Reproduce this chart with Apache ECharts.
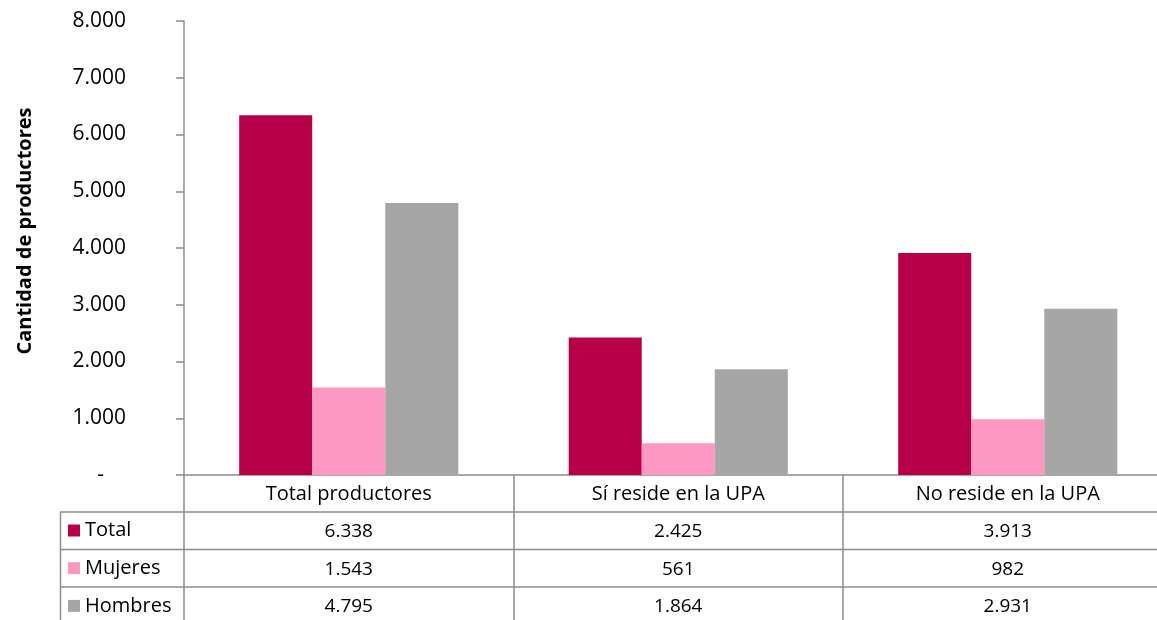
<!DOCTYPE html>
<html>
<head>
<meta charset="utf-8">
<script src="https://cdn.jsdelivr.net/npm/echarts@6/dist/echarts.min.js"></script>
<style>
  html, body { margin: 0; padding: 0; background: #fff; }
  #chart { width: 1157px; height: 620px; }
</style>
</head>
<body>
<div id="chart"></div>
<script>
const categorias = ['Total productores', 'Sí reside en la UPA', 'No reside en la UPA']
const total = [6338, 2425, 3913]
const mujeres = [1543, 561, 982]
const hombres = [4795, 1864, 2931]
const yTicks = { min: 0, max: 8000, interval: 1000 }

const fuente = '"Open Sans", "Noto Sans", sans-serif'
const gris = '#8c8c8c'
const fila = 37.7

function miles (v) {
  return String(v).replace(/\B(?=(\d{3})+(?!\d))/g, '.')
}

const myChart = echarts.init(document.getElementById('chart'))

const option = {
  animation: false,
  color: ['#B8004A', '#FF97C3', '#A6A6A6'],
  textStyle: { fontFamily: fuente },
  grid: { left: 184, top: 21, bottom: 145, right: -15.5, outerBoundsMode: 'none' },
  legend: {
    orient: 'vertical',
    left: 68,
    top: 519.5,
    padding: 0,
    height: 200,
    icon: 'rect',
    itemWidth: 12,
    itemHeight: 12,
    itemGap: fila - 22,
    textStyle: { fontSize: 20, color: '#000', lineHeight: 22, fontFamily: fuente },
    selectedMode: false
  },
  xAxis: {
    type: 'category',
    data: categorias,
    axisLine: { lineStyle: { color: gris, width: 1.5 } },
    axisTick: { show: true, length: 146, lineStyle: { color: gris, width: 1.5 } },
    axisLabel: {
      interval: 0,
      margin: 0,
      color: '#000',
      fontFamily: fuente,
      formatter: function (v, i) {
        return ['{h|' + v + '}',
          '{n|' + miles(total[i]) + '}',
          '{n|' + miles(mujeres[i]) + '}',
          '{n|' + miles(hombres[i]) + '}'].join('\n')
      },
      rich: {
        h: { fontSize: 20, lineHeight: fila, fontFamily: fuente, color: '#000' },
        n: { fontSize: 19, lineHeight: fila, fontFamily: fuente, color: '#000' }
      }
    }
  },
  yAxis: {
    type: 'value',
    min: yTicks.min,
    max: yTicks.max,
    interval: yTicks.interval,
    splitLine: { show: false },
    axisLine: { show: true, lineStyle: { color: gris, width: 1.5 } },
    axisTick: { show: true, length: 8, lineStyle: { color: gris, width: 1.5 } },
    axisLabel: {
      margin: 58,
      fontSize: 21,
      color: '#000',
      fontFamily: fuente,
      formatter: function (v) {
        return v === 0 ? '{d|-}' : miles(v)
      },
      rich: { d: { fontSize: 21, padding: [0, 22, 0, 0], fontFamily: fuente } }
    }
  },
  graphic: [
    {
      type: 'text',
      x: 25,
      y: 231,
      rotation: Math.PI / 2,
      style: {
        text: 'Cantidad de productores',
        fontSize: 20,
        fontWeight: 'bold',
        fontFamily: fuente,
        fill: '#000',
        align: 'center',
        verticalAlign: 'middle'
      }
    },
    // bordes de la tabla de datos
    { type: 'line', shape: { x1: 60, y1: 512, x2: 1157, y2: 512 }, style: { stroke: gris, lineWidth: 1.5 } },
    { type: 'line', shape: { x1: 60, y1: 549.5, x2: 1157, y2: 549.5 }, style: { stroke: gris, lineWidth: 1.5 } },
    { type: 'line', shape: { x1: 60, y1: 587, x2: 1157, y2: 587 }, style: { stroke: gris, lineWidth: 1.5 } },
    { type: 'line', shape: { x1: 60.5, y1: 512, x2: 60.5, y2: 620 }, style: { stroke: gris, lineWidth: 1.5 } }
  ],
  series: [
    { name: 'Total', type: 'bar', barGap: '0%', barCategoryGap: '33.5%', data: total },
    { name: 'Mujeres', type: 'bar', barGap: '0%', barCategoryGap: '33.5%', data: mujeres },
    { name: 'Hombres', type: 'bar', barGap: '0%', barCategoryGap: '33.5%', data: hombres }
  ]
}

myChart.setOption(option)
window.onresize = function () {
  myChart.resize()
}
</script>
</body>
</html>
